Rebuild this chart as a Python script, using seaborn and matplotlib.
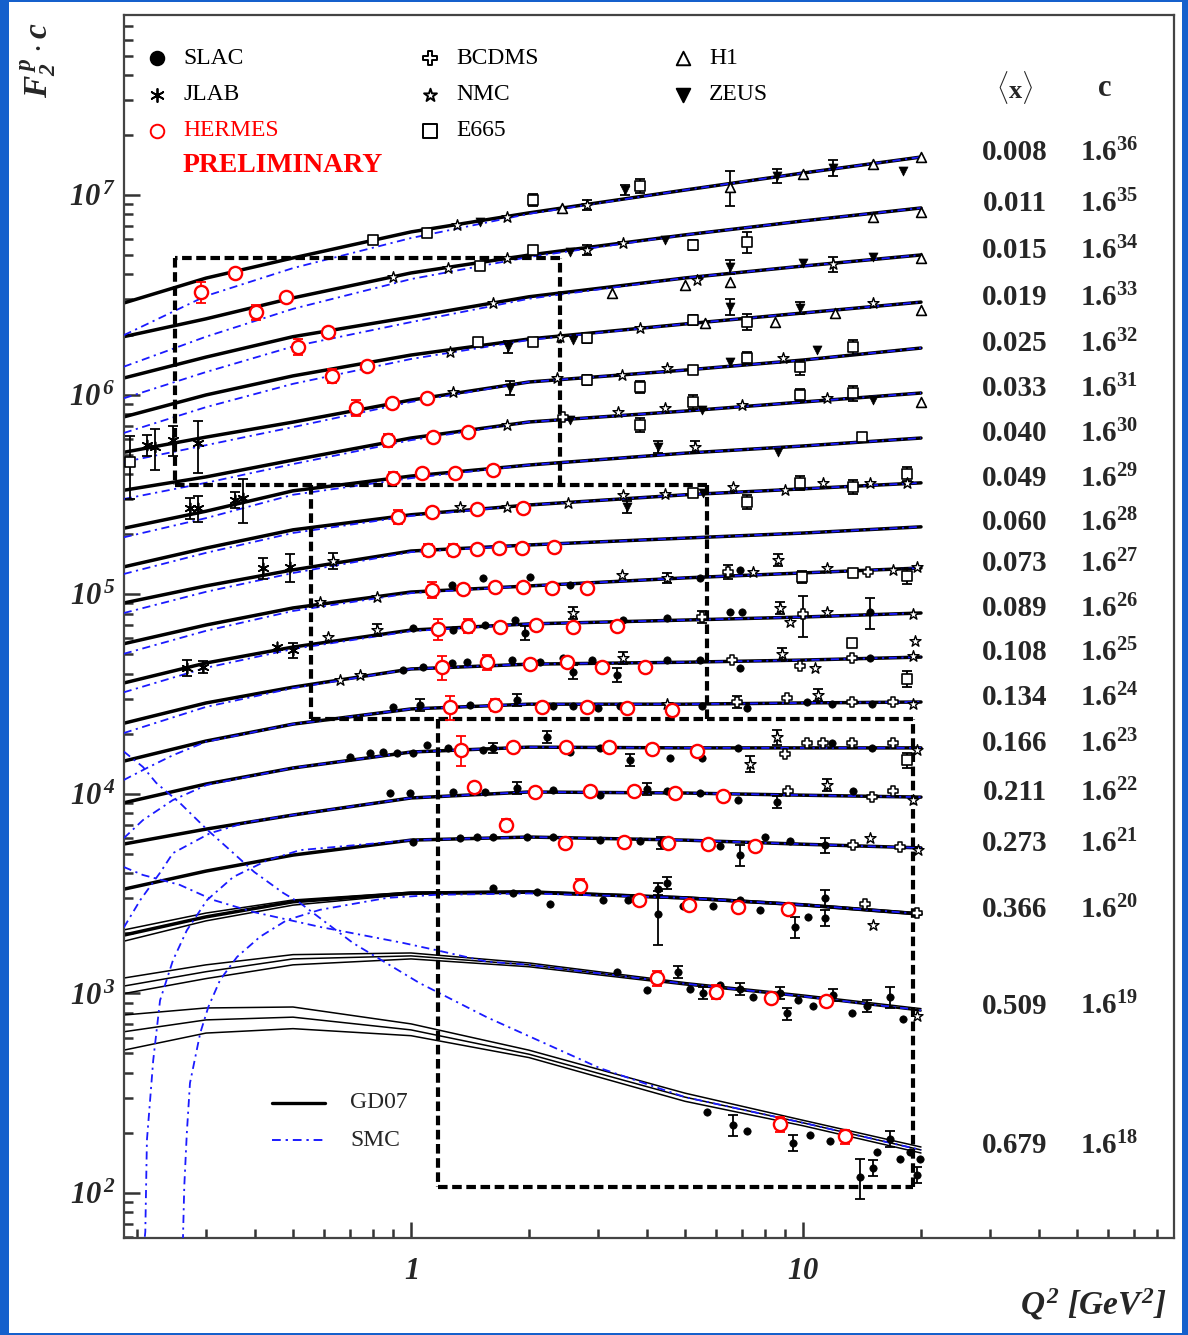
import numpy as np
import pandas as pd
import matplotlib
matplotlib.use("Agg")
import matplotlib.pyplot as plt
import seaborn as sns
from matplotlib.patches import Rectangle
from matplotlib.ticker import LogLocator, NullFormatter

sns.set_theme(style="white")
plt.rcParams['font.family'] = ['Liberation Serif', 'DejaVu Serif']
plt.rcParams['mathtext.fontset'] = 'custom'
plt.rcParams['mathtext.rm'] = 'Liberation Serif:italic:bold'
plt.rcParams['mathtext.it'] = 'Liberation Serif:italic:bold'
plt.rcParams['mathtext.bf'] = 'Liberation Serif:bold'

# ---------------- data ----------------
x_bins = ["0.008", "0.011", "0.015", "0.019", "0.025", "0.033", "0.040", "0.049", "0.060", "0.073",
          "0.089", "0.108", "0.134", "0.166", "0.211", "0.273", "0.366", "0.509", "0.679"]
c_exp = [36, 35, 34, 33, 32, 31, 30, 29, 28, 27, 26, 25, 24, 23, 22, 21, 20, 19, 18]

q2_grid = [0.185, 0.3, 0.5, 1, 2, 5, 10, 20]
gd07_f2 = [
    [0.129, 0.172, 0.217, 0.293, 0.365, 0.475, 0.578, 0.695],
    [0.140, 0.172, 0.219, 0.292, 0.359, 0.453, 0.532, 0.618],
    [0.139, 0.177, 0.224, 0.281, 0.355, 0.441, 0.506, 0.575],
    [0.142, 0.183, 0.228, 0.290, 0.349, 0.415, 0.471, 0.534],
    [0.151, 0.180, 0.214, 0.276, 0.340, 0.390, 0.438, 0.503],
    [0.156, 0.182, 0.221, 0.285, 0.343, 0.389, 0.432, 0.479],
    [0.161, 0.196, 0.248, 0.294, 0.334, 0.383, 0.416, 0.456],
    [0.165, 0.205, 0.253, 0.301, 0.337, 0.379, 0.406, 0.435],
    [0.174, 0.212, 0.255, 0.317, 0.340, 0.368, 0.390, 0.419],
    [0.174, 0.216, 0.263, 0.316, 0.339, 0.372, 0.394, 0.417],
    [0.177, 0.223, 0.268, 0.326, 0.350, 0.366, 0.379, 0.397],
    [0.178, 0.225, 0.270, 0.333, 0.352, 0.360, 0.369, 0.382],
    [0.184, 0.232, 0.282, 0.336, 0.355, 0.355, 0.360, 0.364],
    [0.182, 0.226, 0.272, 0.327, 0.346, 0.343, 0.343, 0.343],
    [0.181, 0.215, 0.253, 0.308, 0.330, 0.326, 0.318, 0.311],
    [0.172, 0.212, 0.255, 0.303, 0.314, 0.303, 0.289, 0.277],
    [0.162, 0.200, 0.238, 0.263, 0.266, 0.249, 0.230, 0.207],
    [0.144, 0.170, 0.197, 0.204, 0.184, 0.148, 0.128, 0.109],
    [0.136, 0.156, 0.161, 0.139, 0.105, 0.064, 0.0476, 0.0348],
]
# GD07 uncertainty band (upper / lower) for the three highest-x bins
band_bins = [17, 18, 19]
gd07_hi = [
    [0.172, 0.209, 0.243, 0.266, 0.270, 0.252, 0.232, 0.209],
    [0.158, 0.184, 0.207, 0.211, 0.188, 0.150, 0.130, 0.111],
    [0.165, 0.179, 0.181, 0.149, 0.110, 0.067, 0.049, 0.036],
]
gd07_lo = [
    [0.151, 0.191, 0.229, 0.260, 0.263, 0.246, 0.227, 0.204],
    [0.132, 0.157, 0.184, 0.197, 0.180, 0.146, 0.127, 0.108],
    [0.110, 0.134, 0.141, 0.130, 0.101, 0.061, 0.046, 0.0336],
]

smc_q2 = [q2_grid] * 12 + [
    [0.185, 0.212, 0.247, 0.3, 0.5, 1, 2, 5, 10, 20],
    [0.185, 0.207, 0.247, 0.302, 0.5, 1, 2, 5, 10, 20],
    [0.185, 0.204, 0.229, 0.247, 0.307, 0.382, 0.5, 1, 2, 5, 10, 20],
    [0.207, 0.210, 0.212, 0.216, 0.220, 0.229, 0.247, 0.268, 0.302, 0.352, 0.430, 0.521, 1, 2, 5, 10, 20],
    [0.260, 0.262, 0.264, 0.268, 0.273, 0.290, 0.304, 0.326, 0.360, 0.412, 0.483, 0.586, 0.869, 1.16, 2, 5, 10, 20],
    [0.185, 0.207, 0.257, 0.313, 0.395, 0.586, 0.954, 1.16, 1.56, 2, 5, 10, 20],
    [0.185, 0.207, 0.224, 0.257, 0.302, 0.352, 0.398, 0.472, 0.521, 0.711, 1.05, 1.56, 2.40, 3.03, 5, 10, 20],
]
smc_f2 = [
    [0.089, 0.140, 0.193, 0.273, 0.361, 0.475, 0.578, 0.695],
    [0.099, 0.140, 0.193, 0.272, 0.351, 0.453, 0.532, 0.618],
    [0.110, 0.149, 0.200, 0.265, 0.347, 0.441, 0.506, 0.575],
    [0.118, 0.159, 0.208, 0.277, 0.345, 0.415, 0.471, 0.534],
    [0.135, 0.164, 0.202, 0.270, 0.340, 0.390, 0.438, 0.503],
    [0.141, 0.170, 0.211, 0.278, 0.343, 0.389, 0.432, 0.479],
    [0.145, 0.181, 0.237, 0.287, 0.334, 0.383, 0.416, 0.456],
    [0.152, 0.194, 0.244, 0.297, 0.337, 0.379, 0.406, 0.435],
    [0.155, 0.198, 0.246, 0.313, 0.340, 0.368, 0.390, 0.419],
    [0.155, 0.202, 0.254, 0.312, 0.339, 0.372, 0.394, 0.417],
    [0.159, 0.211, 0.262, 0.322, 0.350, 0.366, 0.379, 0.397],
    [0.159, 0.215, 0.267, 0.333, 0.352, 0.360, 0.369, 0.382],
    [0.148, 0.170, 0.197, 0.230, 0.282, 0.336, 0.355, 0.355, 0.360, 0.364],
    [0.121, 0.149, 0.188, 0.224, 0.272, 0.327, 0.346, 0.343, 0.343, 0.343],
    [0.069, 0.095, 0.130, 0.163, 0.205, 0.233, 0.253, 0.308, 0.330, 0.326, 0.318, 0.311],
    [0.0025, 0.0033, 0.0095, 0.0151, 0.0239, 0.0477, 0.0757, 0.107, 0.152, 0.198, 0.240, 0.270, 0.303, 0.314, 0.303, 0.289, 0.277],
    [0.003, 0.0049, 0.0089, 0.0165, 0.0294, 0.0524, 0.0706, 0.0968, 0.126, 0.159, 0.193, 0.217, 0.249, 0.258, 0.262, 0.249, 0.230, 0.207],
    [0.569, 0.519, 0.463, 0.389, 0.339, 0.285, 0.237, 0.218, 0.191, 0.184, 0.148, 0.128, 0.109],
    [3.45, 2.89, 2.40, 1.91, 1.40, 1.07, 0.860, 0.675, 0.601, 0.379, 0.239, 0.161, 0.110, 0.0895, 0.064, 0.0476, 0.0348],
]

# measurements: (x-bin number 1..19, Q2, F2, relative error)
hermes = [
    (1, 0.291, 0.146, 0.12), (1, 0.356, 0.183, 0.03),
    (2, 0.402, 0.186, 0.09), (2, 0.480, 0.222, 0.03),
    (3, 0.515, 0.199, 0.09), (3, 0.614, 0.237, 0.03),
    (4, 0.629, 0.228, 0.08), (4, 0.772, 0.256, 0.03),
    (5, 0.724, 0.252, 0.09), (5, 0.894, 0.267, 0.03), (5, 1.099, 0.282, 0.03),
    (6, 0.874, 0.278, 0.08), (6, 1.138, 0.288, 0.03), (6, 1.398, 0.305, 0.03),
    (7, 0.900, 0.287, 0.07), (7, 1.067, 0.304, 0.03), (7, 1.295, 0.304, 0.03), (7, 1.619, 0.316, 0.03),
    (8, 0.927, 0.294, 0.08), (8, 1.131, 0.312, 0.03), (8, 1.474, 0.323, 0.03), (8, 1.931, 0.326, 0.03),
    (9, 1.105, 0.322, 0.07), (9, 1.280, 0.322, 0.07), (9, 1.474, 0.325, 0.03), (9, 1.677, 0.329, 0.03),
    (9, 1.919, 0.329, 0.03), (9, 2.316, 0.333, 0.03),
    (10, 1.131, 0.324, 0.09), (10, 1.357, 0.328, 0.03), (10, 1.638, 0.336, 0.03), (10, 1.931, 0.336, 0.03),
    (10, 2.290, 0.332, 0.03), (10, 2.811, 0.332, 0.03),
    (11, 1.172, 0.331, 0.12), (11, 1.398, 0.342, 0.08), (11, 1.686, 0.338, 0.03), (11, 2.084, 0.346, 0.03),
    (11, 2.589, 0.338, 0.03), (11, 3.354, 0.342, 0.03),
    (12, 1.200, 0.341, 0.14), (12, 1.563, 0.361, 0.09), (12, 2.012, 0.353, 0.03), (12, 2.500, 0.361, 0.03),
    (12, 3.071, 0.341, 0.03), (12, 3.953, 0.341, 0.03),
    (13, 1.257, 0.344, 0.14), (13, 1.638, 0.352, 0.07), (13, 2.159, 0.344, 0.03), (13, 2.811, 0.344, 0.03),
    (13, 3.556, 0.340, 0.03), (13, 4.632, 0.332, 0.03),
    (14, 1.342, 0.335, 0.17), (14, 1.820, 0.347, 0.03), (14, 2.485, 0.347, 0.03), (14, 3.199, 0.347, 0.03),
    (14, 4.119, 0.339, 0.03), (14, 5.366, 0.331, 0.03),
    (15, 1.448, 0.350, 0.03), (15, 2.072, 0.330, 0.03), (15, 2.862, 0.334, 0.03), (15, 3.705, 0.334, 0.03),
    (15, 4.715, 0.327, 0.03), (15, 6.250, 0.316, 0.03),
    (16, 1.747, 0.361, 0.07), (16, 2.470, 0.293, 0.03), (16, 3.493, 0.296, 0.03), (16, 4.525, 0.293, 0.03),
    (16, 5.723, 0.289, 0.03), (16, 7.545, 0.283, 0.03),
    (17, 2.700, 0.286, 0.08), (17, 3.816, 0.243, 0.03), (17, 5.119, 0.230, 0.03), (17, 6.827, 0.225, 0.03),
    (17, 9.16, 0.219, 0.03),
    (18, 4.243, 0.158, 0.09), (18, 6.000, 0.135, 0.08), (18, 8.28, 0.125, 0.03), (18, 11.45, 0.121, 0.03),
    (19, 8.73, 0.0469, 0.09), (19, 12.80, 0.0407, 0.08),
]
slac = [
    (10, 1.272, 0.343, 0), (10, 1.526, 0.372, 0), (10, 2.012, 0.376, 0), (10, 2.545, 0.343, 0),
    (10, 5.46, 0.372, 0), (10, 6.907, 0.409, 0),
    (11, 1.012, 0.334, 0), (11, 1.280, 0.327, 0), (11, 1.545, 0.346, 0), (11, 1.842, 0.366, 0),
    (11, 1.954, 0.316, 0.08), (11, 3.473, 0.366, 0), (11, 4.497, 0.375, 0), (11, 6.514, 0.402, 0),
    (11, 6.985, 0.402, 0), (11, 14.82, 0.402, 0.18),
    (12, 0.954, 0.329, 0), (12, 1.073, 0.341, 0), (12, 1.272, 0.357, 0), (12, 1.389, 0.361, 0),
    (12, 1.810, 0.369, 0), (12, 2.134, 0.361, 0), (12, 2.442, 0.378, 0), (12, 2.589, 0.322, 0.08),
    (12, 2.896, 0.369, 0), (12, 3.354, 0.311, 0.08), (12, 4.497, 0.369, 0), (12, 5.46, 0.369, 0),
    (12, 6.907, 0.337, 0), (12, 14.82, 0.378, 0),
    (13, 0.900, 0.344, 0), (13, 1.054, 0.352, 0.07), (13, 1.414, 0.352, 0), (13, 1.864, 0.373, 0.07),
    (13, 2.302, 0.348, 0), (13, 2.589, 0.348, 0), (13, 3.00, 0.340, 0), (13, 3.413, 0.348, 0),
    (13, 5.526, 0.348, 0), (13, 7.195, 0.340, 0), (13, 10.24, 0.364, 0), (13, 11.86, 0.356, 0),
    (13, 15.0, 0.356, 0),
    (14, 0.699, 0.309, 0), (14, 0.786, 0.323, 0), (14, 0.848, 0.327, 0), (14, 0.921, 0.323, 0),
    (14, 1.012, 0.323, 0), (14, 1.099, 0.355, 0), (14, 1.243, 0.343, 0), (14, 1.526, 0.335, 0),
    (14, 1.619, 0.343, 0.06), (14, 2.223, 0.389, 0.07), (14, 2.545, 0.327, 0), (14, 3.034, 0.343, 0),
    (14, 3.620, 0.298, 0.07), (14, 4.579, 0.305, 0), (14, 5.526, 0.305, 0), (14, 6.827, 0.343, 0),
    (14, 11.86, 0.363, 0), (14, 15.0, 0.343, 0),
    (15, 0.884, 0.327, 0), (15, 0.994, 0.327, 0), (15, 1.280, 0.330, 0), (15, 1.545, 0.330, 0),
    (15, 1.864, 0.345, 0.07), (15, 2.302, 0.338, 0), (15, 3.034, 0.319, 0), (15, 4.0, 0.342, 0.07),
    (15, 4.497, 0.334, 0), (15, 5.46, 0.327, 0), (15, 6.827, 0.301, 0), (15, 8.586, 0.294, 0.07),
    (15, 13.42, 0.334, 0),
    (16, 1.012, 0.296, 0), (16, 1.334, 0.310, 0), (16, 1.474, 0.314, 0), (16, 1.619, 0.314, 0),
    (16, 1.976, 0.314, 0), (16, 2.302, 0.314, 0), (16, 3.034, 0.303, 0), (16, 3.839, 0.300, 0),
    (16, 4.343, 0.293, 0.07), (16, 6.14, 0.283, 0), (16, 6.907, 0.255, 0.12), (16, 8.0, 0.314, 0),
    (16, 9.26, 0.300, 0), (16, 11.38, 0.286, 0.09),
    (17, 1.619, 0.280, 0), (17, 1.820, 0.264, 0), (17, 2.096, 0.267, 0), (17, 2.263, 0.232, 0),
    (17, 3.089, 0.243, 0), (17, 3.578, 0.243, 0), (17, 4.266, 0.277, 0.07), (17, 4.266, 0.207, 0.30),
    (17, 4.497, 0.296, 0.07), (17, 4.94, 0.227, 0), (17, 5.89, 0.227, 0), (17, 6.907, 0.243, 0),
    (17, 7.77, 0.217, 0), (17, 9.54, 0.178, 0.12), (17, 10.30, 0.200, 0), (17, 11.38, 0.249, 0.09),
    (17, 11.38, 0.198, 0.09),
    (18, 3.354, 0.170, 0), (18, 4.0, 0.137, 0), (18, 4.80, 0.170, 0.07), (18, 5.15, 0.140, 0),
    (18, 5.558, 0.133, 0.07), (18, 6.14, 0.146, 0), (18, 6.907, 0.140, 0.07), (18, 7.455, 0.127, 0),
    (18, 8.73, 0.133, 0.07), (18, 9.10, 0.105, 0.07), (18, 9.71, 0.123, 0), (18, 10.61, 0.115, 0),
    (18, 11.93, 0.130, 0.07), (18, 13.34, 0.105, 0), (18, 14.56, 0.115, 0.07), (18, 16.67, 0.127, 0.12),
    (18, 17.99, 0.098, 0),
    (19, 5.69, 0.054, 0), (19, 6.628, 0.0465, 0.12), (19, 7.195, 0.0435, 0), (19, 9.43, 0.0378, 0.09),
    (19, 10.42, 0.0414, 0), (19, 11.72, 0.0386, 0), (19, 13.98, 0.0256, 0.23), (19, 15.09, 0.0283, 0.09),
    (19, 15.45, 0.0340, 0), (19, 16.67, 0.0397, 0.09), (19, 17.68, 0.0312, 0), (19, 18.75, 0.0340, 0),
    (19, 19.54, 0.0262, 0.09), (19, 19.88, 0.0312, 0),
]
jlab = [
    (5, 0.212, 0.164, 0.12), (5, 0.222, 0.160, 0.23), (5, 0.247, 0.174, 0.17), (5, 0.286, 0.168, 0.29),
    (7, 0.273, 0.204, 0.12), (7, 0.286, 0.204, 0.15), (7, 0.356, 0.224, 0.09), (7, 0.373, 0.228, 0.25),
    (9, 0.419, 0.261, 0.12), (9, 0.491, 0.264, 0.16),
    (11, 0.268, 0.211, 0.09), (11, 0.295, 0.213, 0.07), (11, 0.455, 0.269, 0), (11, 0.500, 0.259, 0.09),
]
e665 = [
    (1, 0.800, 0.268, 0), (1, 1.099, 0.289, 0), (1, 2.048, 0.424, 0.07), (1, 3.839, 0.498, 0.08),
    (2, 1.500, 0.317, 0), (2, 2.048, 0.381, 0), (2, 5.241, 0.403, 0.06), (2, 7.195, 0.418, 0.12),
    (4, 1.482, 0.337, 0), (4, 2.048, 0.337, 0), (4, 2.811, 0.354, 0.06), (4, 5.241, 0.435, 0.06),
    (4, 7.195, 0.425, 0.09),
    (5, 0.192, 0.135, 0.35), (5, 2.811, 0.348, 0.06), (5, 3.839, 0.321, 0.07), (5, 5.241, 0.390, 0),
    (5, 7.195, 0.448, 0.07), (5, 9.82, 0.404, 0.09), (5, 13.42, 0.508, 0.09),
    (6, 3.839, 0.331, 0.08), (6, 5.241, 0.432, 0.08), (6, 9.82, 0.468, 0.07), (6, 13.42, 0.479, 0.09),
    (7, 14.14, 0.461, 0),
    (8, 5.241, 0.387, 0), (8, 7.195, 0.349, 0.08), (8, 9.82, 0.435, 0.08), (8, 13.42, 0.416, 0.08),
    (8, 18.42, 0.483, 0.08),
    (10, 9.94, 0.376, 0.07), (10, 13.42, 0.394, 0), (10, 18.42, 0.380, 0.09),
    (12, 13.34, 0.449, 0), (12, 18.42, 0.297, 0.09),
    (14, 18.42, 0.298, 0.09),
]
h1 = [
    (1, 2.428, 0.386, 0), (1, 6.514, 0.492, 0.20), (1, 10, 0.571, 0), (1, 15.09, 0.641, 0), (1, 20, 0.695, 0),
    (2, 15.09, 0.557, 0), (2, 20, 0.590, 0),
    (3, 3.257, 0.371, 0), (3, 5.0, 0.407, 0), (3, 6.514, 0.421, 0), (3, 20, 0.555, 0),
    (4, 5.623, 0.420, 0), (4, 8.48, 0.425, 0), (4, 12.07, 0.471, 0), (4, 20, 0.488, 0),
    (6, 20, 0.432, 0),
]
zeus = [
    (1, 1.500, 0.329, 0), (1, 3.514, 0.475, 0.06), (1, 8.586, 0.559, 0.08), (1, 11.93, 0.613, 0.09),
    (1, 17.99, 0.591, 0),
    (2, 2.545, 0.372, 0), (2, 4.443, 0.427, 0),
    (3, 6.514, 0.501, 0.08), (3, 10, 0.524, 0), (3, 15.09, 0.562, 0),
    (4, 1.768, 0.318, 0.07), (4, 2.589, 0.345, 0), (4, 6.514, 0.505, 0.09), (4, 9.82, 0.499, 0.07),
    (5, 1.789, 0.317, 0.08), (5, 6.514, 0.428, 0), (5, 10.86, 0.491, 0),
    (6, 2.545, 0.350, 0), (6, 5.526, 0.394, 0), (6, 15.09, 0.442, 0),
    (7, 4.266, 0.411, 0.07), (7, 8.64, 0.388, 0),
    (8, 3.556, 0.330, 0.07), (8, 5.558, 0.387, 0),
]
nmc = [
    (1, 1.310, 0.317, 0), (1, 1.758, 0.348, 0), (1, 2.811, 0.400, 0.06),
    (2, 0.900, 0.279, 0), (2, 1.243, 0.310, 0), (2, 1.758, 0.347, 0), (2, 2.811, 0.381, 0.06), (2, 3.473, 0.413, 0),
    (3, 1.619, 0.331, 0), (3, 5.366, 0.431, 0), (3, 11.93, 0.518, 0.09),
    (4, 1.257, 0.300, 0), (4, 2.399, 0.357, 0), (4, 3.839, 0.396, 0), (4, 15.09, 0.528, 0),
    (5, 1.280, 0.303, 0), (5, 2.357, 0.356, 0), (5, 3.452, 0.369, 0), (5, 4.497, 0.399, 0), (5, 8.89, 0.448, 0),
    (6, 1.758, 0.331, 0), (6, 3.373, 0.384, 0), (6, 4.443, 0.402, 0), (6, 6.985, 0.417, 0), (6, 11.51, 0.452, 0),
    (7, 5.302, 0.411, 0.07),
    (8, 1.334, 0.330, 0), (8, 1.758, 0.330, 0), (8, 2.515, 0.345, 0), (8, 3.473, 0.379, 0), (8, 4.443, 0.382, 0),
    (8, 6.628, 0.416, 0), (8, 9.00, 0.401, 0), (8, 11.25, 0.435, 0), (8, 14.82, 0.435, 0), (8, 18.42, 0.435, 0),
    (9, 0.632, 0.283, 0.09),
    (10, 0.586, 0.282, 0), (10, 0.819, 0.299, 0), (10, 3.452, 0.385, 0), (10, 4.497, 0.372, 0.06),
    (10, 7.455, 0.399, 0), (10, 8.64, 0.458, 0.07), (10, 11.51, 0.417, 0), (10, 16.97, 0.409, 0), (10, 19.54, 0.422, 0),
    (11, 0.614, 0.301, 0), (11, 0.819, 0.327, 0.07), (11, 2.589, 0.397, 0.07), (11, 8.73, 0.421, 0.07),
    (11, 9.26, 0.358, 0), (11, 11.51, 0.402, 0), (11, 19.09, 0.393, 0),
    (12, 0.659, 0.293, 0), (12, 0.741, 0.311, 0), (12, 3.473, 0.378, 0.07), (12, 8.84, 0.396, 0.07),
    (12, 10.73, 0.337, 0), (12, 19.09, 0.387, 0), (12, 19.31, 0.460, 0),
    (13, 4.497, 0.356, 0), (13, 10.92, 0.395, 0.07), (13, 19.09, 0.356, 0),
    (14, 7.325, 0.285, 0.09), (14, 8.586, 0.389, 0.09), (14, 19.54, 0.335, 0),
    (15, 11.51, 0.357, 0.07), (15, 19.09, 0.301, 0),
    (16, 14.82, 0.310, 0), (16, 19.65, 0.270, 0),
    (17, 15.09, 0.182, 0),
    (18, 19.54, 0.102, 0),
]
bcdms = [
    (6, 2.442, 0.363, 0),
    (10, 6.44, 0.399, 0.08), (10, 14.65, 0.399, 0),
    (11, 5.526, 0.379, 0.07), (11, 10, 0.393, 0.23),
    (12, 6.59, 0.369, 0), (12, 9.82, 0.345, 0), (12, 13.34, 0.378, 0),
    (13, 6.787, 0.364, 0.07), (13, 9.10, 0.381, 0), (13, 13.34, 0.364, 0), (13, 16.97, 0.364, 0),
    (14, 9.00, 0.320, 0), (14, 10.24, 0.363, 0), (14, 11.25, 0.363, 0), (14, 13.34, 0.363, 0), (14, 16.97, 0.363, 0),
    (15, 9.16, 0.334, 0), (15, 15.0, 0.311, 0), (15, 16.97, 0.334, 0),
    (16, 13.42, 0.286, 0), (16, 17.68, 0.280, 0),
    (17, 14.39, 0.232, 0), (17, 19.54, 0.210, 0),
]

# kinematic boxes (Q2 low, Q2 high, F2*c low, F2*c high)
box_q2_lo = [0.25, 0.556, 1.17]
box_q2_hi = [2.40, 5.70, 19.1]
box_v_lo = [3.52e5, 2.38e4, 107]
box_v_hi = [4.84e6, 3.52e5, 2.38e4]

# ---------------- figure ----------------
W, H = 1188, 1335
fig = plt.figure(figsize=(W / 100, H / 100), dpi=100)
fig.patch.set_facecolor('#1560cc')
fig.patches.append(Rectangle((9 / W, 2 / H), (1182 - 9) / W, (1333 - 2) / H, transform=fig.transFigure,
                             facecolor='white', edgecolor='none', zorder=-10))
ax = fig.add_axes([124 / W, (H - 1238) / H, 1050 / W, 1223 / H])
ax.set_facecolor('white')
ax.set_xscale('log')
ax.set_yscale('log')

scale = [1.6 ** k for k in c_exp]

# GD07 curves
rows_thick, rows_thin = [], []
for i, f2 in enumerate(gd07_f2):
    target = rows_thin if (i + 1) in (18, 19) else rows_thick
    for q, v in zip(q2_grid, f2):
        target.append((f"c{i}", q, v * scale[i]))
for j, b in enumerate(band_bins):
    for q, vh, vl in zip(q2_grid, gd07_hi[j], gd07_lo[j]):
        rows_thin.append((f"h{b}", q, vh * scale[b - 1]))
        rows_thin.append((f"l{b}", q, vl * scale[b - 1]))
df_thick = pd.DataFrame(rows_thick, columns=['curve', 'q2', 'val'])
df_thin = pd.DataFrame(rows_thin, columns=['curve', 'q2', 'val'])
sns.lineplot(data=df_thick, x='q2', y='val', units='curve', estimator=None, sort=False,
             color='black', lw=2.5, ax=ax, legend=False, zorder=2)
sns.lineplot(data=df_thin, x='q2', y='val', units='curve', estimator=None, sort=False,
             color='black', lw=1.1, ax=ax, legend=False, zorder=2)

# SMC curves
rows_smc = []
for i, (qs, fs) in enumerate(zip(smc_q2, smc_f2)):
    for q, v in zip(qs, fs):
        rows_smc.append((f"s{i}", q, v * scale[i]))
df_smc = pd.DataFrame(rows_smc, columns=['curve', 'q2', 'val'])
sns.lineplot(data=df_smc, x='q2', y='val', units='curve', estimator=None, sort=False,
             color='#1a1aff', lw=1.3, linestyle=(0, (4.5, 2.5, 1.2, 2.5)), ax=ax, legend=False, zorder=3)

# boxes: shared edges are drawn only once so the dashes stay visible
for i, (ql, qh, vl, vh) in enumerate(zip(box_q2_lo, box_q2_hi, box_v_lo, box_v_hi)):
    top_start = ql if i == 0 else max(ql, box_q2_hi[i - 1])
    segs = [([ql, ql], [vh, vl]), ([ql, qh], [vl, vl]), ([qh, qh], [vl, vh]), ([qh, top_start], [vh, vh])]
    for xs, ys in segs:
        ax.plot(xs, ys, color='black', lw=3.0, linestyle=(0, (2.3, 1.1)), zorder=4)


def draw_exp(records, marker, s, face, edge, lw, z, ecol=None):
    df = pd.DataFrame(records, columns=['bin', 'q2', 'f2', 'err'])
    df['val'] = df['f2'] * np.array([scale[b - 1] for b in df['bin']])
    e = df[df['err'] > 0]
    if len(e):
        ax.errorbar(e['q2'], e['val'], yerr=e['val'] * e['err'], fmt='none',
                    ecolor=ecol or edge, elinewidth=1.3, capsize=3.5, capthick=1.3, zorder=z - 0.5)
    kw = dict(marker=marker, s=s, linewidth=lw, zorder=z, ax=ax, legend=False)
    if face is None:
        sns.scatterplot(data=df, x='q2', y='val', color=edge, **kw)
    else:
        sns.scatterplot(data=df, x='q2', y='val', color=face, edgecolor=edge, **kw)


draw_exp(slac, 'o', 28, 'black', 'black', 0.5, 5)
draw_exp(jlab, (6, 2, 0), 55, None, 'black', 1.2, 5)
draw_exp(e665, 's', 50, 'white', 'black', 1.2, 5)
draw_exp(h1, '^', 50, 'white', 'black', 1.2, 5)
draw_exp(zeus, 'v', 42, 'black', 'black', 0.5, 5)
draw_exp(nmc, '*', 70, 'white', 'black', 1.0, 5)
draw_exp(bcdms, 'P', 50, 'white', 'black', 1.1, 5)
draw_exp(hermes, 'o', 90, 'white', '#ff0000', 1.7, 6)

# ---------------- axes styling ----------------
ax.set_xlim(0.1853, 88.4)
ax.set_ylim(59.5, 7.98e7)
ax.set_xlabel('')
ax.set_ylabel('')
ax.set_xticks([1, 10], labels=[r'$1$', r'$10$'])
ax.set_yticks([10.0 ** k for k in range(2, 8)],
              labels=[rf'$10^{{\,{k}}}$' for k in range(2, 8)])
ax.xaxis.set_minor_locator(LogLocator(base=10, subs=np.arange(2, 10), numticks=20))
ax.yaxis.set_minor_locator(LogLocator(base=10, subs=np.arange(2, 10), numticks=20))
ax.xaxis.set_minor_formatter(NullFormatter())
ax.yaxis.set_minor_formatter(NullFormatter())
ax.tick_params(which='both', direction='in', color='#333333', width=1.8,
               left=True, bottom=True, top=False, right=False)
ax.tick_params(which='major', length=11.5)
ax.tick_params(which='minor', length=6.5)
ax.tick_params(axis='y', which='major', labelsize=22, pad=6)
ax.tick_params(axis='x', which='major', labelsize=22, pad=14)
for sp in ax.spines.values():
    sp.set_visible(True)
    sp.set_color('#444444')
    sp.set_linewidth(1.6)

# right-hand labels
ax.text(0.8486, 1 - (88 - 15) / 1223, r'$\langle\mathbf{x}\rangle$', transform=ax.transAxes,
        ha='center', va='center', fontsize=19)
ax.text(0.9343, 1 - (88 - 15) / 1223, 'c', transform=ax.transAxes, ha='center', va='center',
        fontsize=22, fontweight='bold')
for i, lab in enumerate(x_bins):
    yv = gd07_f2[i][-1] * scale[i]
    ax.annotate(lab, xy=(0.8486, yv), xycoords=('axes fraction', 'data'), xytext=(0, 3),
                textcoords='offset points', ha='center', va='center', fontsize=21, fontweight='bold')
    ax.annotate(rf'$\mathbf{{1.6}}^{{\mathbf{{{c_exp[i]}}}}}$', xy=(0.9105, yv),
                xycoords=('axes fraction', 'data'), xytext=(0, 3), textcoords='offset points',
                ha='left', va='center', fontsize=21)


# experiment legend (top-left)
def fy(py):
    return 1 - (py - 15) / 1223


def fx(px):
    return (px - 124) / 1050


leg = [
    (157, 58, 'o', 'black', 'black', 'SLAC', 'black'),
    (157, 95, (6, 2, 0), None, 'black', 'JLAB', 'black'),
    (157, 131, 'o', 'white', '#ff0000', 'HERMES', '#ff0000'),
    (430, 58, 'P', 'white', 'black', 'BCDMS', 'black'),
    (430, 95, '*', 'white', 'black', 'NMC', 'black'),
    (430, 131, 's', 'white', 'black', 'E665', 'black'),
    (683, 58, '^', 'white', 'black', 'H1', 'black'),
    (683, 95, 'v', 'black', 'black', 'ZEUS', 'black'),
]
for px, py, m, fc, ec, name, tc in leg:
    if fc is None:
        ax.scatter([fx(px)], [fy(py)], marker=m, s=90, c=ec, linewidths=1.3,
                   transform=ax.transAxes, clip_on=False, zorder=8)
    else:
        ax.scatter([fx(px)], [fy(py)], marker=m, s=95, c=fc, edgecolors=ec, linewidths=1.4,
                   transform=ax.transAxes, clip_on=False, zorder=8)
    ax.text(fx(px + 26), fy(py), name, transform=ax.transAxes, ha='left', va='center',
            fontsize=17, color=tc)
ax.text(fx(183), fy(165), 'PRELIMINARY', transform=ax.transAxes, ha='left', va='center',
        fontsize=20, fontweight='bold', color='#ff0000')

# model legend (bottom-left)
ax.plot([fx(272), fx(325)], [fy(1103), fy(1103)], color='black', lw=2.4, transform=ax.transAxes)
ax.plot([fx(272), fx(325)], [fy(1140), fy(1140)], color='#1a1aff', lw=1.4,
        linestyle=(0, (4.5, 2.5, 1.2, 2.5)), transform=ax.transAxes)
ax.text(fx(350), fy(1103), 'GD07', transform=ax.transAxes, ha='left', va='center', fontsize=17)
ax.text(fx(350), fy(1140), 'SMC', transform=ax.transAxes, ha='left', va='center', fontsize=17)

# axis titles
fig.text(38 / W, 1 - 60 / H, r'$F_{2}^{\,p}\cdot c$', rotation=90, ha='center', va='center', fontsize=24)
fig.text(1093 / W, 1 - 1304 / H, r'$Q^{2}\ [GeV^{2}]$', ha='center', va='center', fontsize=24)

fig.savefig('out.png', dpi=100, facecolor=fig.get_facecolor())
